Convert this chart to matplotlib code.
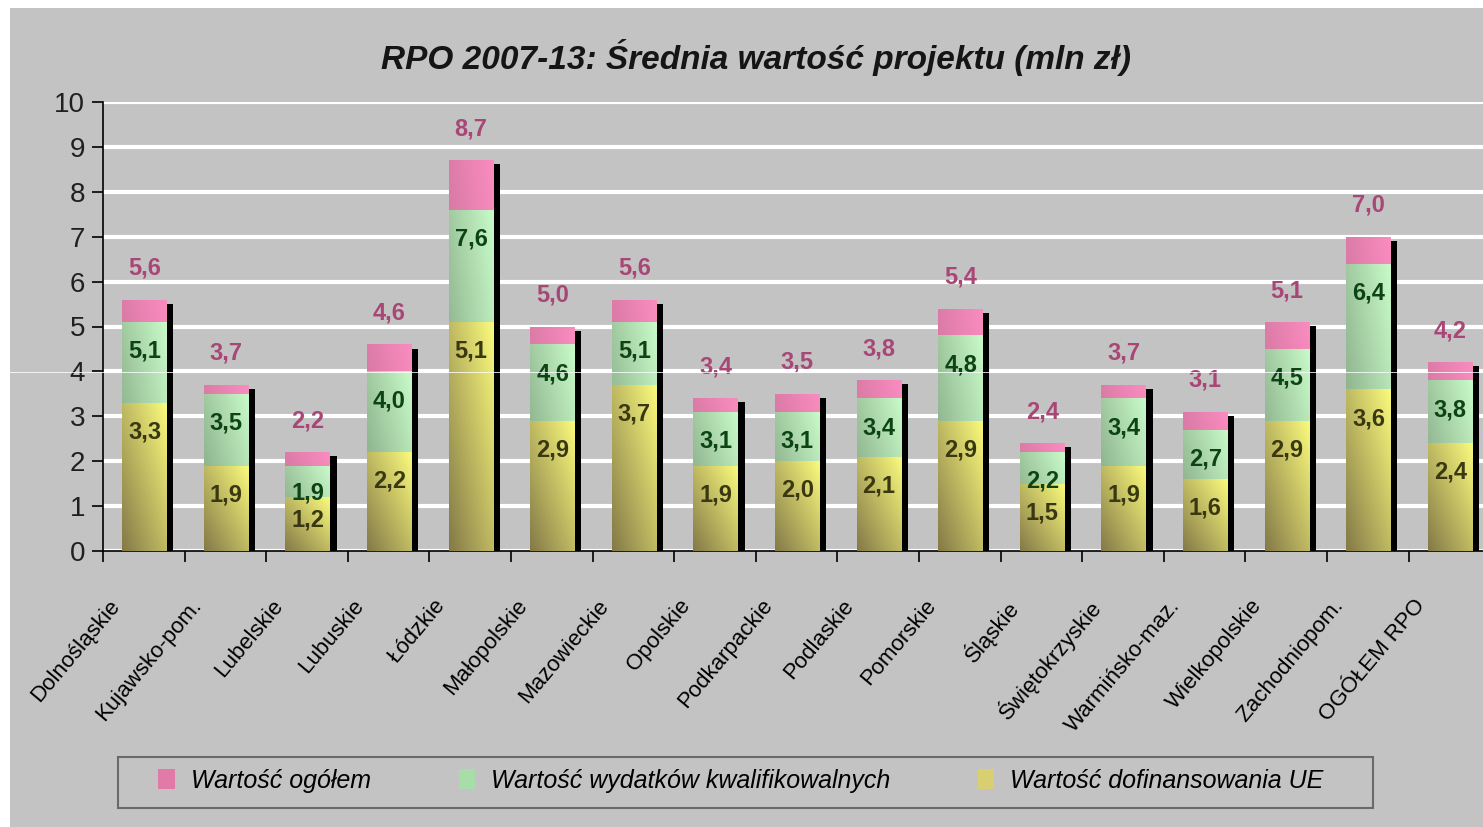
import matplotlib
matplotlib.use('Agg')
import matplotlib.pyplot as plt
from matplotlib.patches import Rectangle, Patch
from matplotlib.lines import Line2D
import matplotlib.transforms as mtransforms
import numpy as np

plt.rcParams['font.family'] = ['Liberation Sans', 'DejaVu Sans']

W, H = 1483, 827
bgColor = '#c3c3c3'

categories = ['Dolnośląskie', 'Kujawsko-pom.', 'Lubelskie', 'Lubuskie', 'Łódzkie',
              'Małopolskie', 'Mazowieckie', 'Opolskie', 'Podkarpackie', 'Podlaskie',
              'Pomorskie', 'Śląskie', 'Świętokrzyskie', 'Warmińsko-maz.',
              'Wielkopolskie', 'Zachodniopom.', 'OGÓŁEM RPO']
totalValue = [5.6, 3.7, 2.2, 4.6, 8.7, 5.0, 5.6, 3.4, 3.5, 3.8, 5.4, 2.4, 3.7, 3.1, 5.1, 7.0, 4.2]
eligibleValue = [5.1, 3.5, 1.9, 4.0, 7.6, 4.6, 5.1, 3.1, 3.1, 3.4, 4.8, 2.2, 3.4, 2.7, 4.5, 6.4, 3.8]
euValue = [3.3, 1.9, 1.2, 2.2, 5.1, 2.9, 3.7, 1.9, 2.0, 2.1, 2.9, 1.5, 1.9, 1.6, 2.9, 3.6, 2.4]
seriesNames = ['Wartość ogółem', 'Wartość wydatków kwalifikowalnych', 'Wartość dofinansowania UE']


def fmt(v):
    return f'{v:.1f}'.replace('.', ',')


def gradientFill(ax, bars, dark, light):
    dark = np.array(matplotlib.colors.to_rgb(dark))
    light = np.array(matplotlib.colors.to_rgb(light))
    u = np.linspace(0, 1, 40)
    t = 0.5 * u[None, :] + 0.5 * u[:, None]
    img = dark[None, None, :] + t[:, :, None] * (light - dark)[None, None, :]
    for b in bars:
        x0, y0 = b.get_x(), b.get_y()
        im = ax.imshow(img, extent=[x0, x0 + b.get_width(), y0, y0 + b.get_height()],
                       origin='lower', aspect='auto', interpolation='bilinear',
                       zorder=b.get_zorder() + 0.1)
        im.set_clip_path(b)


fig = plt.figure(figsize=(W / 100, H / 100), dpi=100)
fig.patch.set_facecolor(bgColor)
fig.add_artist(Rectangle((0, 1 - 8 / H), 1, 8 / H, transform=fig.transFigure,
                         facecolor='white', edgecolor='none'))
fig.add_artist(Rectangle((0, 0), 10 / W, 1, transform=fig.transFigure,
                         facecolor='white', edgecolor='none'))

step = 81.6
ax = fig.add_axes([103 / W, 1 - 551 / H, 17 * step / W, 449 / H])
ax.set_facecolor(bgColor)

x = np.arange(len(categories)) + 0.51
barWidth = 0.55

ax.bar(x + 0.078, np.array(totalValue) - 0.09, barWidth, color='black', zorder=1.5)
pinkBars = ax.bar(x, totalValue, barWidth, color='#f090b8', zorder=2)
greenBars = ax.bar(x, eligibleValue, barWidth, color='#c0f0c0', zorder=3)
yellowBars = ax.bar(x, euValue, barWidth, color='#f0f080', zorder=4)
gradientFill(ax, pinkBars, '#c06c90', '#fa8cc0')
gradientFill(ax, greenBars, '#7a9a7a', '#c8fac8')
gradientFill(ax, yellowBars, '#847a48', '#fafa7c')

for i in range(len(categories)):
    ax.text(x[i], totalValue[i] + 0.7, fmt(totalValue[i]), ha='center', va='center',
            color='#a84676', fontsize=17, fontweight='bold', zorder=6)
    ax.text(x[i], max(eligibleValue[i] - 0.65, 1.3), fmt(eligibleValue[i]), ha='center', va='center',
            color='#0c4416', fontsize=17, fontweight='bold', zorder=6)
    ax.text(x[i], max(euValue[i] - 0.65, 0.7), fmt(euValue[i]), ha='center', va='center',
            color='#3a3810', fontsize=17, fontweight='bold', zorder=6)

ax.set_xlim(0, len(categories))
ax.set_ylim(0, 10)
ax.set_yticks(range(11))
ax.yaxis.grid(True, color='white', linewidth=3)
ax.set_axisbelow(True)
ax.tick_params(axis='y', length=8, width=1.2, labelsize=20, labelcolor='#202020', pad=5)

ax.set_xticks(np.arange(len(categories)) + 0.5)
ax.set_xticks(np.arange(len(categories) + 1), minor=True)
ax.tick_params(axis='x', which='major', length=0, pad=32)
ax.tick_params(axis='x', which='minor', length=8, width=1.2)
ax.set_xticklabels(categories, rotation=50, ha='right', va='top',
                   rotation_mode='anchor', fontsize=16)
shift = mtransforms.ScaledTranslation(-0.36, 0, fig.dpi_scale_trans)
for lab in ax.get_xticklabels():
    lab.set_transform(lab.get_transform() + shift)

for side in ['top', 'right']:
    ax.spines[side].set_visible(False)
for side in ['left', 'bottom']:
    ax.spines[side].set_linewidth(1.2)
    ax.spines[side].set_color('black')

fig.text(756 / W, 1 - 57 / H, 'RPO 2007-13: Średnia wartość projektu (mln zł)',
         ha='center', va='center', fontsize=24, style='italic', fontweight='bold',
         color='#151515')

# legend box drawn separately so the padding matches
fig.add_artist(Rectangle((118 / W, 1 - 808 / H), 1255 / W, 51 / H, transform=fig.transFigure,
                         facecolor='none', edgecolor='#6a6a6a', linewidth=1.5))
handles = [Patch(facecolor='#e27aa8', edgecolor='none'),
           Patch(facecolor='#a8dca8', edgecolor='none'),
           Patch(facecolor='#d8d070', edgecolor='none')]
leg = fig.legend(handles, seriesNames, loc='center', ncol=3,
                 bbox_to_anchor=(741 / W, 1 - 781 / H),
                 prop={'style': 'italic', 'size': 18},
                 frameon=False, handlelength=0.65, handleheight=0.85,
                 handletextpad=0.65, columnspacing=3.5)

fig.add_artist(Line2D([0, 1], [1 - 372 / H, 1 - 372 / H], transform=fig.transFigure,
                      color='white', linewidth=0.7, alpha=0.8, zorder=10))

fig.savefig('out.png', dpi=100, facecolor=fig.get_facecolor())
